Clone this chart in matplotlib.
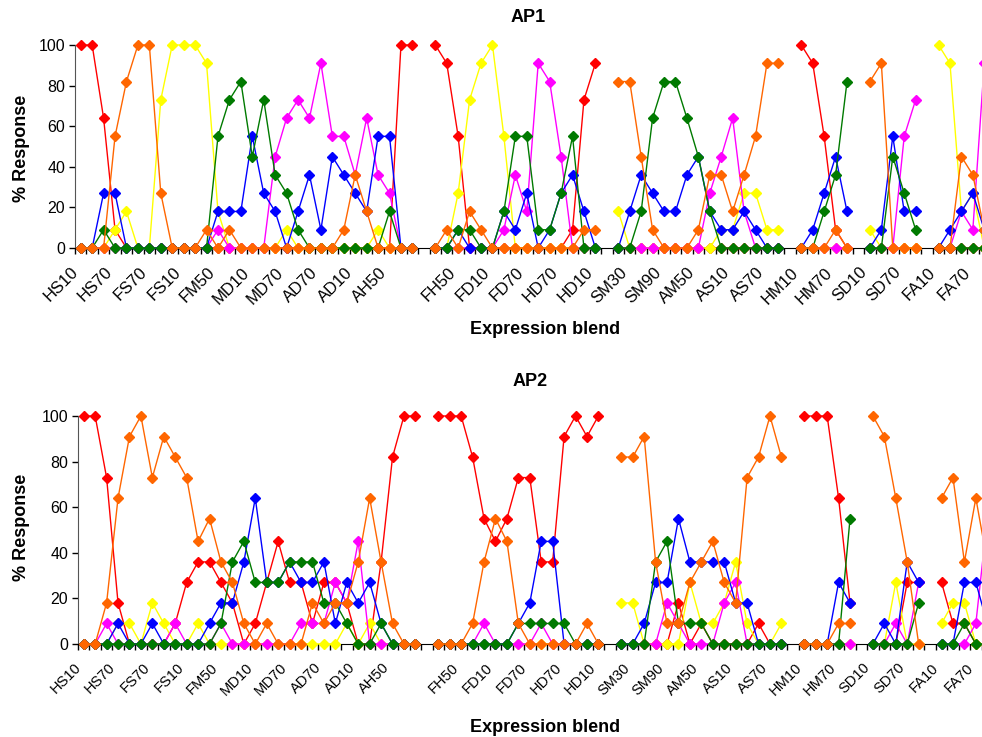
import numpy as np
import matplotlib
matplotlib.use('Agg')
import matplotlib.pyplot as plt

plt.rcParams['font.family'] = ['Liberation Sans', 'DejaVu Sans']

N = np.nan

# 80 category slots, '' = empty slot between blend groups
categories = [
    'HS10', 'HS30', 'HS50', 'HS70', 'HS90', 'FS90', 'FS70', 'FS50', 'FS30', 'FS10',
    'FM10', 'FM30', 'FM50', 'FM70', 'FM90', 'MD10', 'MD30', 'MD50', 'MD70', 'MD90',
    'AD90', 'AD70', 'AD50', 'AD30', 'AD10', 'AH10', 'AH30', 'AH50', 'AH70', 'AH90',
    '',
    'FH10', 'FH30', 'FH50', 'FH70', 'FH90', 'FD10', 'FD30', 'FD50', 'FD70', 'FD90',
    'HD90', 'HD70', 'HD50', 'HD30', 'HD10',
    '',
    'SM10', 'SM30', 'SM50', 'SM70', 'SM90', 'AM10', 'AM30', 'AM50', 'AM70', 'AM90',
    'AS10', 'AS30', 'AS50', 'AS70', 'AS90',
    '',
    'HM10', 'HM30', 'HM50', 'HM70', 'HM90',
    '',
    'SD10', 'SD30', 'SD50', 'SD70', 'SD90',
    '',
    'FA10', 'FA30', 'FA50', 'FA70', 'FA90',
]

# ---- AP1 (% response) ----
ap1_red = [100, 100, 64, 9, 0, 0, 0, 0, 0, 0, 0, 0, 0, 0, 0, 0, 0, 0, 0, 0, 0, 0, 0, 0, 0, 0, 0, 0, 100, 100, N,
           100, 91, 55, 0, 0, 0, 0, 0, 0, 0, 0, 0, 9, 73, 91, N,
           0, 0, 0, 0, 0, 0, 0, 0, 0, 0, 0, 0, 0, 0, 0, N,
           100, 91, 55, 9, 0, N,
           0, 0, 0, 0, 0, N,
           0, 0, 0, 0, 0]
ap1_orange = [0, 0, 0, 55, 82, 100, 100, 27, 0, 0, 0, 9, 0, 9, 0, 0, 0, 0, 0, 0, 0, 0, 0, 9, 36, 18, 0, 0, 0, 0, N,
              0, 9, 0, 18, 9, 0, 0, 0, 0, 0, 0, 0, 0, 9, 9, N,
              82, 82, 45, 9, 0, 0, 0, 9, 36, 36, 18, 36, 55, 91, 91, N,
              0, 0, 0, 9, 0, N,
              82, 91, 0, 0, 0, N,
              0, 0, 45, 36, 9]
ap1_yellow = [0, 0, 0, 9, 18, 0, 0, 73, 100, 100, 100, 91, 18, 0, 0, 0, 0, 0, 9, 0, 0, 0, 0, 0, 0, 0, 9, 0, 0, 0, N,
              0, 0, 27, 73, 91, 100, 55, 0, 0, 0, 0, 0, 0, 0, 0, N,
              18, 0, 0, 0, 0, 0, 0, 0, 0, 9, 9, 27, 27, 9, 9, N,
              0, 0, 0, 0, 0, N,
              9, 0, 0, 0, 0, N,
              100, 91, 18, 27, 0]
ap1_green = [0, 0, 9, 0, 0, 0, 0, 0, 0, 0, 0, 0, 55, 73, 82, 45, 73, 36, 27, 9, 0, 0, 0, 0, 0, 0, 0, 18, 0, 0, N,
             0, 0, 9, 9, 0, 0, 18, 55, 55, 9, 9, 27, 55, 0, 0, N,
             0, 0, 18, 64, 82, 82, 64, 45, 18, 0, 0, 0, 0, 0, 0, N,
             0, 0, 18, 36, 82, N,
             0, 0, 45, 27, 9, N,
             0, 0, 0, 0, 0]
ap1_blue = [0, 0, 27, 27, 0, 0, 0, 0, 0, 0, 0, 0, 18, 18, 18, 55, 27, 18, 0, 18, 36, 9, 45, 36, 27, 18, 55, 55, 0, 0, N,
            0, 0, 9, 0, 0, 0, 18, 9, 27, 0, 9, 27, 36, 18, 0, N,
            0, 18, 36, 27, 18, 18, 36, 45, 18, 9, 9, 18, 9, 0, 0, N,
            0, 9, 27, 45, 18, N,
            0, 9, 55, 18, 18, N,
            0, 9, 18, 27, 9]
ap1_magenta = [0, 0, 0, 0, 0, 0, 0, 0, 0, 0, 0, 0, 9, 0, 0, 0, 0, 45, 64, 73, 64, 91, 55, 55, 36, 64, 36, 27, 0, 0, N,
               0, 0, 0, 0, 0, 0, 9, 36, 18, 91, 82, 45, 0, 0, 0, N,
               0, 0, 0, 0, 0, 0, 0, 0, 27, 45, 64, 18, 0, 0, 0, N,
               0, 0, 0, 0, 0, N,
               0, 0, 0, 55, 73, N,
               0, 0, 18, 9, 91]

# ---- AP2 (% response) ----
ap2_red = [100, 100, 73, 18, 0, 0, 0, 0, 9, 27, 36, 36, 27, 18, 0, 9, 27, 45, 27, 27, 9, 27, 27, 18, 0, 0, 36, 82, 100, 100, N,
           100, 100, 100, 82, 55, 45, 55, 73, 73, 36, 36, 91, 100, 91, 100, N,
           0, 0, 0, 0, 0, 18, 0, 9, 0, 0, 0, 0, 9, 0, 0, N,
           100, 100, 100, 64, 18, N,
           0, 0, 0, 27, 27, N,
           27, 9, 9, 0, 0]
ap2_orange = [0, 0, 18, 64, 91, 100, 73, 91, 82, 73, 45, 55, 36, 27, 9, 0, 9, 0, 0, 0, 18, 9, 18, 18, 36, 64, 36, 9, 0, 0, N,
              0, 0, 0, 9, 36, 55, 45, 9, 0, 0, 0, 0, 0, 9, 0, N,
              82, 82, 91, 36, 9, 9, 27, 36, 45, 27, 18, 73, 82, 100, 82, N,
              0, 0, 0, 9, 9, N,
              100, 91, 64, 36, 0, N,
              64, 73, 36, 64, 36]
ap2_yellow = [0, 0, 0, 9, 9, 0, 18, 9, 0, 0, 9, 0, 0, 0, 0, 0, 0, 0, 0, 0, 0, 0, 0, 9, 0, 9, 0, 0, 0, 0, N,
              0, 0, 0, 0, 0, 0, 0, 0, 0, 0, 0, 0, 0, 0, 0, N,
              18, 18, 0, 0, 0, 0, 27, 9, 9, 18, 36, 9, 0, 0, 9, N,
              0, 0, 0, 0, 0, N,
              0, 0, 27, 0, 0, N,
              9, 18, 18, 0, 0]
ap2_green = [0, 0, 0, 0, 0, 0, 0, 0, 0, 0, 0, 0, 9, 36, 45, 27, 27, 27, 36, 36, 36, 18, 18, 9, 0, 0, 9, 0, 0, 0, N,
             0, 0, 0, 0, 0, 0, 0, 9, 9, 9, 9, 9, 0, 0, 0, N,
             0, 0, 0, 36, 45, 9, 9, 9, 0, 0, 0, 0, 0, 0, 0, N,
             0, 0, 0, 0, 55, N,
             0, 0, 0, 0, 18, N,
             0, 0, 9, 0, 0]
ap2_blue = [0, 0, 0, 9, 0, 0, 9, 0, 0, 0, 0, 9, 18, 18, 36, 64, 27, 27, 36, 27, 27, 36, 9, 27, 18, 27, 9, 0, 0, 0, N,
            0, 0, 0, 0, 0, 0, 0, 9, 18, 45, 45, 0, 0, 0, 0, N,
            0, 0, 9, 27, 27, 55, 36, 36, 36, 36, 18, 18, 0, 0, 0, N,
            0, 0, 0, 27, 18, N,
            0, 9, 0, 36, 27, N,
            0, 0, 27, 27, 9]
ap2_magenta = [0, 0, 9, 0, 0, 0, 0, 0, 9, 0, 0, 0, 9, 0, 0, 0, 0, 0, 0, 9, 9, 9, 27, 18, 45, 0, 0, 0, 0, 0, N,
               0, 0, 0, 0, 9, 0, 0, 0, 0, 9, 0, 0, 0, 0, 0, N,
               0, 0, 0, 0, 18, 9, 0, 0, 0, 18, 27, 0, 0, 0, 0, N,
               0, 0, 0, 0, 0, N,
               0, 0, 9, 0, 27, N,
               0, 0, 0, 9, 55]

colors = {'red': '#FF0000', 'yellow': '#FFFF00', 'magenta': '#FF00FF',
          'blue': '#0000FF', 'green': '#007A00', 'orange': '#FF6600'}
order = ['red', 'yellow', 'magenta', 'blue', 'green', 'orange']

ap1 = {'red': ap1_red, 'yellow': ap1_yellow, 'magenta': ap1_magenta,
       'blue': ap1_blue, 'green': ap1_green, 'orange': ap1_orange}
ap2 = {'red': ap2_red, 'yellow': ap2_yellow, 'magenta': ap2_magenta,
       'blue': ap2_blue, 'green': ap2_green, 'orange': ap2_orange}

W, H = 982, 737
fig = plt.figure(figsize=(W / 100, H / 100), dpi=100)


def draw(rect, data, lab_size):
    ax = fig.add_axes(rect)
    x = np.arange(len(categories))
    for k, name in enumerate(order):
        ax.plot(x, np.array(data[name], dtype=float), color=colors[name], lw=1.0,
                marker='D', ms=5.2, mec=colors[name], clip_on=False, zorder=3 + k)
    ax.set_xlim(-0.5, len(categories) - 0.5)
    ax.set_ylim(0, 100)
    ax.set_yticks(range(0, 101, 20))
    ax.tick_params(axis='y', labelsize=11.5, length=4, width=1, pad=3)
    ax.set_xticks(np.arange(-0.5, len(categories), 1), minor=True)
    ax.tick_params(axis='x', which='minor', length=4, width=1)
    idx = [i for i in range(0, len(categories), 3) if categories[i]]
    ax.set_xticks(idx)
    ax.set_xticklabels([categories[i] for i in idx], rotation=45, ha='right',
                       va='top', fontsize=lab_size)
    ax.tick_params(axis='x', which='major', length=0, pad=12)
    for s in ['top', 'right']:
        ax.spines[s].set_visible(False)
    ax.spines['left'].set_color('#555555')
    return ax


draw([75 / W, 1 - 248 / H, 915 / W, 203 / H], ap1, 12)
draw([78 / W, 1 - 644 / H, 915 / W, 228 / H], ap2, 10.5)

fig.text(528 / W, 1 - 18 / H, 'AP1', ha='center', va='center', fontsize=13, fontweight='bold')
fig.text(530 / W, 1 - 382 / H, 'AP2', ha='center', va='center', fontsize=13, fontweight='bold')
fig.text(545 / W, 1 - 330 / H, 'Expression blend', ha='center', va='center', fontsize=13, fontweight='bold')
fig.text(545 / W, 1 - 727 / H, 'Expression blend', ha='center', va='center', fontsize=13, fontweight='bold')
fig.text(22 / W, 1 - 148 / H, '% Response', ha='center', va='center', rotation=90, fontsize=13, fontweight='bold')
fig.text(22 / W, 1 - 527 / H, '% Response', ha='center', va='center', rotation=90, fontsize=13, fontweight='bold')

fig.savefig('out.png', dpi=100)
